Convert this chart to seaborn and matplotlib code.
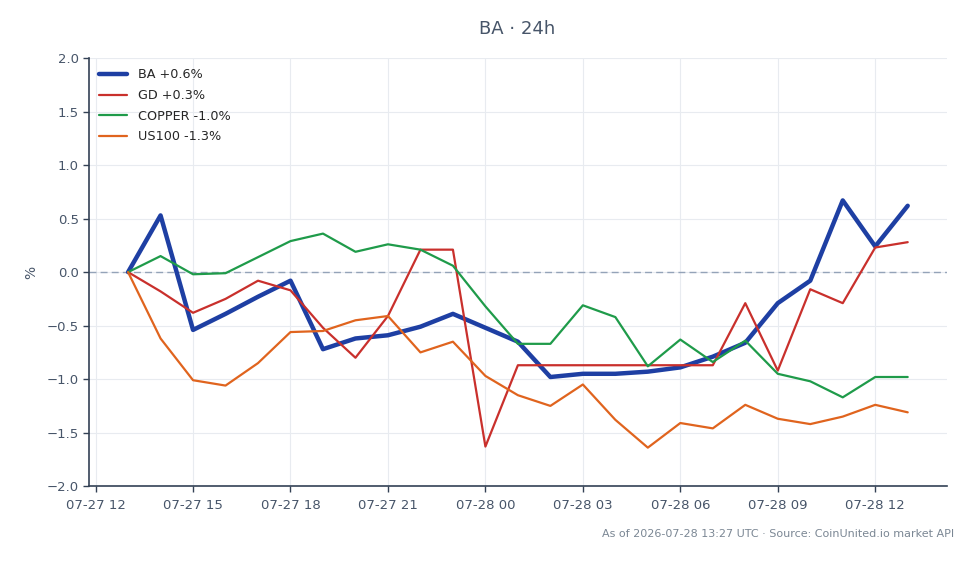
import numpy as np
import pandas as pd
import matplotlib
matplotlib.use("Agg")
import matplotlib.pyplot as plt
import matplotlib.dates as mdates
import seaborn as sns

start = "2026-07-27 13:00"
n_points = 25
ba = [0, 0.53, -0.54, -0.39, -0.23, -0.08, -0.72, -0.62, -0.59, -0.51, -0.39, -0.52, -0.65,
      -0.98, -0.95, -0.95, -0.93, -0.89, -0.79, -0.66, -0.29, -0.08, 0.67, 0.24, 0.62]
gd = [0, -0.18, -0.38, -0.25, -0.08, -0.17, -0.52, -0.80, -0.41, 0.21, 0.21, -1.63, -0.87,
      -0.87, -0.87, -0.87, -0.87, -0.87, -0.87, -0.29, -0.92, -0.16, -0.29, 0.23, 0.28]
copper = [0, 0.15, -0.02, -0.01, 0.14, 0.29, 0.36, 0.19, 0.26, 0.21, 0.06, -0.32, -0.67,
          -0.67, -0.31, -0.42, -0.88, -0.63, -0.84, -0.64, -0.95, -1.02, -1.17, -0.98, -0.98]
us100 = [0, -0.62, -1.01, -1.06, -0.85, -0.56, -0.55, -0.45, -0.41, -0.75, -0.65, -0.97, -1.15,
         -1.25, -1.05, -1.38, -1.64, -1.41, -1.46, -1.24, -1.37, -1.42, -1.35, -1.24, -1.31]
labels = ["BA +0.6%", "GD +0.3%", "COPPER -1.0%", "US100 -1.3%"]
colors = ["#1e3fa3", "#c9302c", "#1f9b4a", "#e0641e"]
widths = [3.2, 1.6, 1.6, 1.6]

times = pd.date_range(start, periods=n_points, freq="h")
frames = []
for lab, vals in zip(labels, [ba, gd, copper, us100]):
    frames.append(pd.DataFrame({"time": times, "pct": vals, "series": lab}))
df = pd.concat(frames, ignore_index=True)

sns.set_style("white")
plt.rcParams["font.family"] = ["DejaVu Sans"]

fig = plt.figure(figsize=(9.79, 5.64), dpi=100)
ax = fig.add_axes([0.091, 0.138, 0.876, 0.759])

ax.axhline(0, color="#94a3b8", lw=1.0, ls=(0, (5, 3)), zorder=1)
sns.lineplot(data=df, x="time", y="pct", hue="series", hue_order=labels,
             palette=colors, ax=ax, legend=True, zorder=3)
for line, w in zip(ax.get_lines()[1:5], widths):
    line.set_linewidth(w)

ax.set_ylim(-2.0, 2.0)
ax.set_yticks(np.arange(-2.0, 2.01, 0.5))
ax.yaxis.set_major_formatter(matplotlib.ticker.FuncFormatter(
    lambda v, p: f"{v:.1f}".replace("-", "\u2212")))
ax.xaxis.set_major_locator(mdates.HourLocator(byhour=range(0, 24, 3)))
ax.xaxis.set_major_formatter(mdates.DateFormatter("%m-%d %H"))
ax.grid(True, color="#e8ebf0", lw=0.8)
ax.set_axisbelow(True)
for s in ["top", "right"]:
    ax.spines[s].set_visible(False)
for s in ["left", "bottom"]:
    ax.spines[s].set_color("#334155")
    ax.spines[s].set_linewidth(1.2)
ax.tick_params(axis="both", colors="#334155", labelsize=9.5, length=4, width=1,
               labelcolor="#475569", bottom=True, left=True)
ax.tick_params(axis="x", pad=5)
ax.set_xlabel("")
ax.set_ylabel("%", color="#475569", fontsize=10, labelpad=6)

leg = ax.legend(loc="upper left", frameon=False, fontsize=9.2, handlelength=2.2,
                borderaxespad=0.4, labelspacing=0.6)
for h, w in zip(leg.get_lines(), widths):
    h.set_linewidth(w)

fig.suptitle("BA · 24h", x=0.528, y=0.965, fontsize=13, color="#475569")
fig.text(0.975, 0.054, "As of 2026-07-28 13:27 UTC · Source: CoinUnited.io market API",
         ha="right", va="center", fontsize=8, color="#7b8794")

fig.savefig("out.png", dpi=100)
